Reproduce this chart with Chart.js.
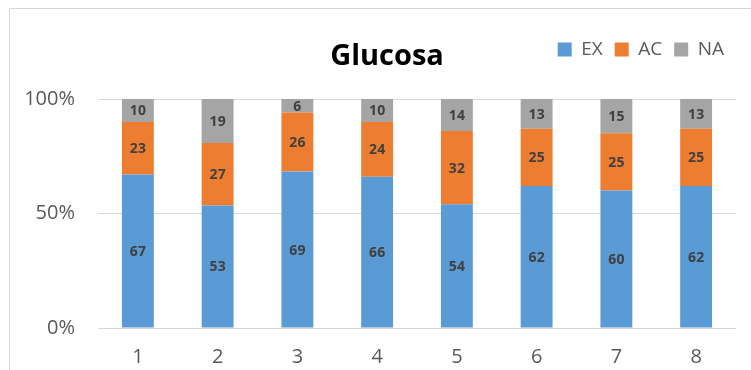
<!DOCTYPE html>
<html>
<head>
<meta charset="utf-8">
<script src="https://cdn.jsdelivr.net/npm/chart.js@4/dist/chart.umd.min.js"></script>
<style>
  html, body { margin: 0; padding: 0; background: #fff; }
  #wrap { position: relative; width: 751px; height: 370px; overflow: hidden; }
  #frame { position: absolute; left: 9px; top: 8px; right: -2px; bottom: -2px;
           border-top: 1px solid #d9d9d9; border-left: 1px solid #d9d9d9; pointer-events: none; }
</style>
</head>
<body>
<div id="wrap">
  <canvas id="canvasGlucosa" width="751" height="370"></canvas>
  <div id="frame"></div>
</div>
<script>
var categories = ['1', '2', '3', '4', '5', '6', '7', '8'];
var ex = [67, 53, 69, 66, 54, 62, 60, 62];
var ac = [23, 27, 26, 24, 32, 25, 25, 25];
var na = [10, 19, 6, 10, 14, 13, 15, 13];
var yTicks = [0, 50, 100];

var font = '"Open Sans", "DejaVu Sans", sans-serif';

// 100% stacked: scale each column to its own total
var totals = categories.map(function(c, i) { return ex[i] + ac[i] + na[i]; });
function pct(arr) {
  return arr.map(function(v, i) { return v / totals[i] * 100; });
}
var raw = [ex, ac, na];

var titlePlugin = {
  id: 'titleText',
  afterDraw: function(chart) {
    var ctx = chart.ctx;
    ctx.save();
    ctx.font = 'bold 29px ' + font;
    ctx.fillStyle = '#000';
    ctx.textAlign = 'center';
    ctx.textBaseline = 'alphabetic';
    ctx.fillText('Glucosa', 387, 65);
    ctx.restore();
  }
};

var legendShift = {
  id: 'legendShift',
  afterLayout: function(chart) {
    var lg = chart.legend;
    if (!lg) return;
    var dy = -30;
    lg.top += dy;
    lg.bottom += dy;
  }
};

var valueLabels = {
  id: 'valueLabels',
  afterDatasetsDraw: function(chart) {
    var ctx = chart.ctx;
    ctx.save();
    ctx.font = 'bold 14px ' + font;
    ctx.fillStyle = '#404040';
    ctx.textAlign = 'center';
    ctx.textBaseline = 'middle';
    chart.data.datasets.forEach(function(ds, d) {
      var meta = chart.getDatasetMeta(d);
      meta.data.forEach(function(bar, i) {
        var top = Math.min(bar.y, bar.base);
        var bot = Math.max(bar.y, bar.base);
        ctx.fillText(String(raw[d][i]), bar.x, (top + bot) / 2 + 1);
      });
    });
    ctx.restore();
  }
};

var chartdata = {
  labels: categories,
  datasets: [
    { label: 'EX', backgroundColor: '#5B9BD5', data: pct(ex) },
    { label: 'AC', backgroundColor: '#ED7D31', data: pct(ac) },
    { label: 'NA', backgroundColor: '#A5A5A5', data: pct(na) }
  ]
};

var ctx = document.getElementById('canvasGlucosa');
var barGraph = new Chart(ctx, {
  type: 'bar',
  data: chartdata,
  plugins: [legendShift, valueLabels, titlePlugin],
  options: {
    responsive: false,
    animation: false,
    layout: { padding: { top: 58, right: 15, left: 0, bottom: 0 } },
    datasets: { bar: { barPercentage: 0.4, categoryPercentage: 1, borderWidth: 0 } },
    plugins: {
      title: { display: false },
      tooltip: { enabled: false },
      legend: {
        position: 'top',
        align: 'end',
        labels: {
          boxWidth: 14,
          boxHeight: 14,
          padding: 12,
          color: '#595959',
          font: { family: font, size: 19 }
        }
      }
    },
    scales: {
      x: {
        stacked: true,
        grid: { display: false, drawTicks: false },
        border: { display: false },
        ticks: { color: '#595959', padding: 17, font: { family: font, size: 20 } },
        afterFit: function(s) { s.height = 42; }
      },
      y: {
        stacked: true,
        min: 0,
        max: 100,
        afterBuildTicks: function(s) { s.ticks = yTicks.map(function(v) { return { value: v }; }); },
        grid: { color: '#d9d9d9', lineWidth: 1, drawTicks: false },
        border: { display: false },
        ticks: {
          color: '#595959',
          padding: 23,
          font: { family: font, size: 20 },
          callback: function(v) { return v + '%'; }
        },
        afterFit: function(s) { s.width = 98; }
      }
    }
  }
});
</script>
</body>
</html>
